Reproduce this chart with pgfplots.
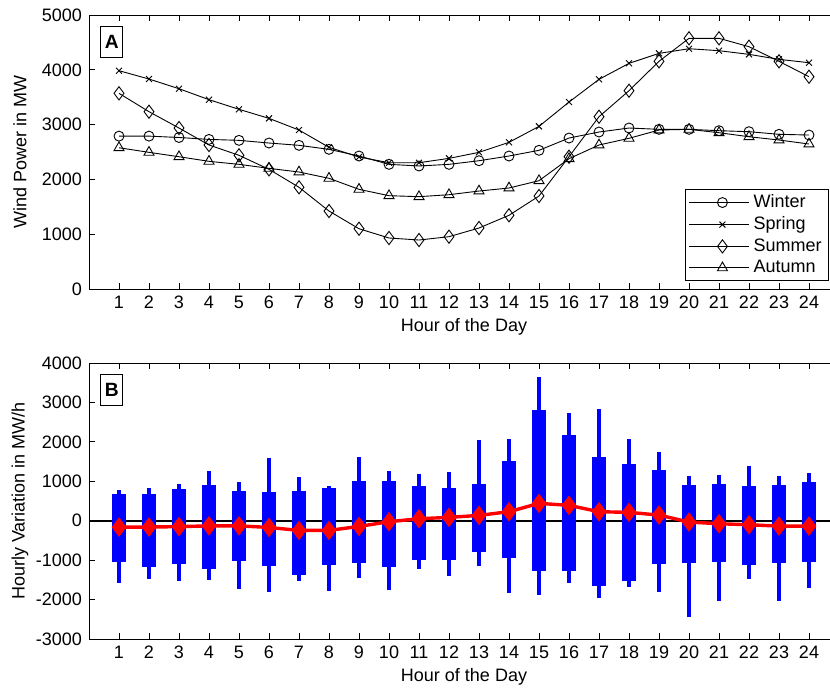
\documentclass[border=0pt]{standalone}
\usepackage{fontspec}
\setmainfont{Liberation Sans}
\usepackage{pgfplots}
\usepackage{pgfplotstable}
\pgfplotsset{compat=1.18}

% hourly mean wind power per season (MW)
\pgfplotstableread{
h  winter spring summer autumn
1  2790 3984 3571 2578
2  2790 3832 3236 2494
3  2765 3655 2938 2414
4  2730 3455 2628 2330
5  2713 3279 2440 2275
6  2664 3114 2184 2202
7  2622 2901 1856 2135
8  2549 2585 1423 2020
9  2427 2409 1100 1819
10 2275 2305  931 1703
11 2245 2305  894 1685
12 2275 2384  955 1721
13 2341 2494 1113 1788
14 2427 2677 1345 1843
15 2531 2968 1697 1977
16 2755 3412 2414 2378
17 2865 3826 3144 2628
18 2938 4118 3619 2750
19 2914 4300 4155 2901
20 2914 4385 4575 2914
21 2889 4349 4575 2852
22 2871 4282 4422 2779
23 2823 4191 4155 2719
24 2810 4130 3874 2646
}\datseason

% hourly variation (MW/h): whiskers, box, mean
\pgfplotstableread{
h  wlo   qlo   qhi  whi  mean
1  -1585 -1051  669  771 -161
2  -1483 -1178  680  830 -160
3  -1517 -1093  805  924 -150
4  -1500 -1220  898 1263 -130
5  -1729 -1017  763  991 -130
6  -1814 -1153  729 1602 -170
7  -1517 -1364  754 1110 -246
8  -1771 -1119  830  881 -246
9  -1458 -1068 1000 1619 -144
10 -1746 -1178 1000 1271  -25
11 -1220 -1008  890 1195   51
12 -1390 -1008  830 1229   85
13 -1153  -788  941 2051  136
14 -1839  -949 1508 2068  229
15 -1881 -1280 2805 3653  441
16 -1576 -1263 2178 2720  390
17 -1958 -1644 1627 2831  229
18 -1669 -1517 1449 2085  212
19 -1814 -1093 1288 1737  144
20 -2449 -1076  915 1144  -34
21 -2042 -1051  941 1153  -76
22 -1475 -1119  873 1390 -102
23 -2025 -1076  907 1144 -136
24 -1695 -1051  992 1212 -136
}\datvar

\pgfplotsset{
  panel/.style={
    scale only axis, width=375pt,
    xmin=0, xmax=25, xtick={1,...,24},
    tick align=inside, major tick length=2.8pt,
    font=\fontsize{9}{10.5}\selectfont,
    /pgf/number format/assume math mode=true,
    scaled y ticks=false,
    yticklabel style={/pgf/number format/1000 sep={}},
    axis line style={line width=0.5pt},
    every tick/.style={black, line width=0.5pt},
    xlabel={Hour of the Day},
    clip=false,
  },
}
\tikzset{
  plabel/.style={draw, line width=0.5pt, font=\fontsize{9.6}{10}\selectfont\bfseries,
    anchor=north west, minimum width=11.2pt, minimum height=15.5pt, inner sep=0pt},
}

\begin{document}
\begin{tikzpicture}
% panel A
\begin{axis}[panel,
  at={(44.5pt,-144.5pt)}, anchor=south west, height=137pt,
  ymin=0, ymax=5000, ytick={0,1000,...,5000},
  ylabel={Wind Power in MW},
  ylabel style={at={(axis description cs:-0.092,0.5)}, anchor=center},
  xlabel style={at={(axis description cs:0.5,-0.139)}, anchor=center},
  legend style={at={(rel axis cs:0.9867,0.029)}, anchor=south east,
    draw=black, line width=0.5pt, row sep=0pt, inner xsep=1.5pt, inner ysep=1pt,
    nodes={inner ysep=1.5pt},
    font=\fontsize{9}{11}\selectfont},
  legend cell align=left,
  legend image code/.code={
    \path (-3.5pt,0pt) -- (0pt,0pt);
    \draw[mark repeat=2, mark phase=2] plot coordinates {(0pt,0pt) (13.2pt,0pt) (26.5pt,0pt)};},
]
\addplot[black, line width=0.45pt, mark=o, mark size=2.5pt] table[x=h, y=winter] {\datseason};
\addplot[black, line width=0.45pt, mark=x, mark size=2.1pt] table[x=h, y=spring] {\datseason};
\addplot[black, line width=0.45pt, mark=diamond, mark size=3.3pt] table[x=h, y=summer] {\datseason};
\addplot[black, line width=0.45pt, mark=triangle, mark size=2.9pt] table[x=h, y=autumn] {\datseason};
\legend{Winter, Spring, Summer, Autumn}
\node[plabel] at (rel axis cs:0.0147,0.960) {A};
\end{axis}

% panel B
\begin{axis}[panel,
  at={(44.5pt,-319.5pt)}, anchor=south west, height=138pt,
  ymin=-3000, ymax=4000, ytick={-3000,-2000,...,4000},
  ylabel={Hourly Variation in MW/h},
  ylabel style={at={(axis description cs:-0.092,0.5)}, anchor=center},
  xlabel style={at={(axis description cs:0.5,-0.138)}, anchor=center},
]
\addplot[black, line width=0.8pt, mark=none, forget plot] coordinates {(0,0) (25,0)};
% whiskers
\addplot[draw=none, mark=none, forget plot,
  error bars/.cd, y dir=plus, y explicit, error mark=none,
  error bar style={draw=blue, line width=1.7pt}]
  table[x=h, y=wlo, y error expr=\thisrow{whi}-\thisrow{wlo}] {\datvar};
% boxes
\addplot[draw=none, mark=none, forget plot,
  error bars/.cd, y dir=plus, y explicit, error mark=none,
  error bar style={draw=blue, line width=6.9pt}]
  table[x=h, y=qlo, y error expr=\thisrow{qhi}-\thisrow{qlo}] {\datvar};
% mean
\addplot[red, line width=1.7pt, mark=diamond*, mark size=4.5pt,
  mark options={fill=red, draw=red, line width=0.5pt}] table[x=h, y=mean] {\datvar};
\node[plabel] at (rel axis cs:0.0147,0.960) {B};
\end{axis}

\pgfresetboundingbox
\useasboundingbox (0pt,0pt) rectangle (415pt,-343.5pt);
\end{tikzpicture}
\end{document}
